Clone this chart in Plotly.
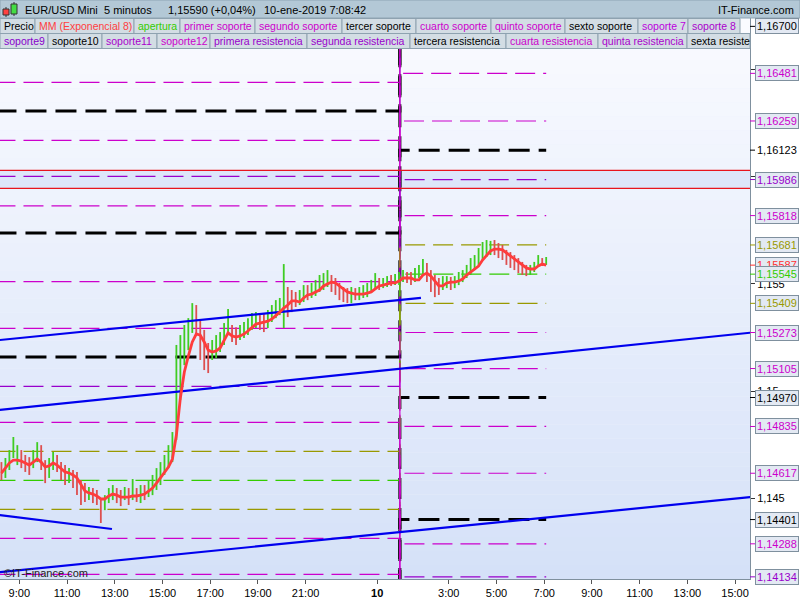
import pandas as pd
import plotly.graph_objects as go

# ---------------- data ----------------
bar_start = "2019-01-09 08:15"
bar_freq = "10min"
bar_high = [1.14669, 1.14688, 1.14725, 1.14786, 1.14748, 1.14725, 1.14702, 1.14692, 1.14725, 1.14762,
            1.14748, 1.14678, 1.14688, 1.14716, 1.14702, 1.14669, 1.14655, 1.14641, 1.14632, 1.14623,
            1.14585, 1.14571, 1.14553, 1.14548, 1.14539, 1.14492, 1.14515, 1.14548, 1.14562, 1.14548,
            1.14539, 1.14553, 1.14548, 1.14590, 1.14548, 1.14562, 1.14562, 1.14585, 1.14609, 1.14641,
            1.14669, 1.14702, 1.14748, 1.14809, 1.15215, 1.15261, 1.15308, 1.15340, 1.15410, 1.15401,
            1.15331, 1.15285, 1.15224, 1.15238, 1.15261, 1.15275, 1.15317, 1.15382, 1.15308, 1.15298,
            1.15308, 1.15322, 1.15340, 1.15364, 1.15368, 1.15354, 1.15364, 1.15378, 1.15401, 1.15424,
            1.15434, 1.15592, 1.15485, 1.15471, 1.15462, 1.15471, 1.15494, 1.15494, 1.15504, 1.15518,
            1.15541, 1.15550, 1.15564, 1.15541, 1.15527, 1.15504, 1.15485, 1.15480, 1.15485, 1.15480,
            1.15485, 1.15494, 1.15504, 1.15518, 1.15550, 1.15527, 1.15527, 1.15536, 1.15541, 1.15546,
            1.15555, 1.15564, 1.15555, 1.15555, 1.15574, 1.15588, 1.15616, 1.15597, 1.15564, 1.15541,
            1.15527, 1.15536, 1.15536, 1.15532, 1.15536, 1.15555, 1.15564, 1.15588, 1.15620, 1.15634,
            1.15667, 1.15695, 1.15704, 1.15700, 1.15704, 1.15690, 1.15681, 1.15658, 1.15648, 1.15634,
            1.15620, 1.15602, 1.15588, 1.15588, 1.15602, 1.15634, 1.15620, 1.15625]
bar_low = [1.14585, 1.14595, 1.14632, 1.14688, 1.14655, 1.14641, 1.14623, 1.14609, 1.14641, 1.14669,
           1.14632, 1.14571, 1.14595, 1.14632, 1.14623, 1.14585, 1.14562, 1.14571, 1.14548, 1.14515,
           1.14469, 1.14483, 1.14492, 1.14478, 1.14469, 1.14385, 1.14445, 1.14478, 1.14492, 1.14478,
           1.14464, 1.14492, 1.14469, 1.14492, 1.14483, 1.14478, 1.14492, 1.14506, 1.14515, 1.14539,
           1.14562, 1.14609, 1.14641, 1.14669, 1.14772, 1.14958, 1.15121, 1.15191, 1.15271, 1.15261,
           1.15145, 1.15098, 1.15084, 1.15145, 1.15154, 1.15182, 1.15215, 1.15275, 1.15229, 1.15215,
           1.15238, 1.15247, 1.15261, 1.15285, 1.15294, 1.15285, 1.15275, 1.15294, 1.15322, 1.15340,
           1.15354, 1.15294, 1.15345, 1.15368, 1.15392, 1.15401, 1.15415, 1.15424, 1.15434, 1.15443,
           1.15462, 1.15471, 1.15485, 1.15462, 1.15448, 1.15424, 1.15415, 1.15410, 1.15410, 1.15424,
           1.15424, 1.15434, 1.15438, 1.15457, 1.15471, 1.15471, 1.15480, 1.15485, 1.15490, 1.15494,
           1.15494, 1.15508, 1.15504, 1.15494, 1.15508, 1.15527, 1.15541, 1.15508, 1.15462, 1.15438,
           1.15448, 1.15471, 1.15480, 1.15471, 1.15480, 1.15494, 1.15508, 1.15527, 1.15541, 1.15564,
           1.15588, 1.15611, 1.15625, 1.15634, 1.15634, 1.15620, 1.15611, 1.15588, 1.15574, 1.15564,
           1.15550, 1.15541, 1.15536, 1.15541, 1.15555, 1.15583, 1.15583, 1.15588]
bar_up = [0, 1, 1, 1, 1, 0, 0, 0, 1, 1,
          0, 0, 1, 1, 0, 0, 0, 1, 0, 0,
          0, 0, 1, 0, 0, 0, 1, 1, 1, 0,
          0, 1, 0, 1, 0, 1, 0, 1, 1, 1,
          1, 1, 1, 1, 1, 1, 1, 1, 1, 0,
          0, 0, 0, 1, 1, 1, 1, 1, 0, 0,
          1, 1, 1, 1, 1, 0, 0, 1, 1, 1,
          1, 1, 0, 0, 0, 1, 1, 0, 1, 1,
          1, 1, 1, 0, 0, 0, 0, 0, 1, 0,
          1, 1, 1, 1, 1, 0, 1, 1, 0, 1,
          1, 1, 0, 0, 1, 1, 1, 0, 0, 0,
          0, 1, 1, 0, 1, 1, 1, 1, 1, 1,
          1, 1, 1, 1, 0, 0, 0, 0, 0, 0,
          0, 0, 0, 1, 1, 1, 0, 1]
ema8 = [1.14618, 1.14641, 1.14665, 1.14678, 1.14678, 1.14674, 1.14665, 1.14655, 1.14669, 1.14683,
        1.14669, 1.14646, 1.14651, 1.14665, 1.14655, 1.14637, 1.14623, 1.14618, 1.14609, 1.14595,
        1.14562, 1.14534, 1.14525, 1.14520, 1.14511, 1.14497, 1.14497, 1.14511, 1.14520, 1.14515,
        1.14506, 1.14506, 1.14506, 1.14511, 1.14511, 1.14515, 1.14520, 1.14534, 1.14548, 1.14571,
        1.14595, 1.14623, 1.14646, 1.14683, 1.14795, 1.14968, 1.15089, 1.15163, 1.15229, 1.15266,
        1.15261, 1.15229, 1.15191, 1.15182, 1.15187, 1.15201, 1.15238, 1.15271, 1.15257, 1.15252,
        1.15257, 1.15266, 1.15280, 1.15294, 1.15312, 1.15317, 1.15322, 1.15326, 1.15336, 1.15350,
        1.15368, 1.15387, 1.15401, 1.15420, 1.15420, 1.15415, 1.15434, 1.15448, 1.15452, 1.15462,
        1.15471, 1.15490, 1.15499, 1.15508, 1.15504, 1.15490, 1.15476, 1.15462, 1.15457, 1.15452,
        1.15452, 1.15452, 1.15457, 1.15462, 1.15476, 1.15490, 1.15494, 1.15499, 1.15504, 1.15504,
        1.15513, 1.15527, 1.15527, 1.15527, 1.15518, 1.15518, 1.15541, 1.15550, 1.15536, 1.15513,
        1.15490, 1.15490, 1.15504, 1.15508, 1.15508, 1.15513, 1.15522, 1.15541, 1.15555, 1.15569,
        1.15583, 1.15611, 1.15634, 1.15653, 1.15662, 1.15662, 1.15658, 1.15644, 1.15634, 1.15616,
        1.15602, 1.15588, 1.15574, 1.15569, 1.15569, 1.15583, 1.15592, 1.15587]

# daily pivot levels: value on 9 Jan (left) and on 10 Jan (right)
level_prev = [1.16439, 1.16306, 1.16169, 1.16001, 1.15863, 1.15737, 1.15510, 1.15292, 1.15159, 1.15022, 1.14854,
              1.14719, 1.14584, 1.14449, 1.14313, 1.14146, 1.14005, 1.13870, 1.13652, 1.13436, 1.13323, 1.13169]
level_next = [1.17404, 1.17271, 1.17134, 1.16966, 1.16825, 1.16700, 1.16481, 1.16259, 1.16123, 1.15986, 1.15818,
              1.15681, 1.15545, 1.15409, 1.15273, 1.15105, 1.14970, 1.14835, 1.14617, 1.14401, 1.14288, 1.14134]
level_color = ["#cc00cc", "#000000", "#cc00cc", "#9900cc", "#cc00cc", "#000000", "#cc00cc", "#cc00cc", "#000000",
               "#9900cc", "#cc00cc", "#999900", "#33cc00", "#999900", "#cc00cc", "#cc00cc", "#000000", "#cc00cc",
               "#cc00cc", "#000000", "#cc00cc", "#9900cc"]
level_from = "2019-01-09 08:00"
day_change = "2019-01-10 00:57"
level_to = "2019-01-10 07:05"
level_label_boxed = [True, True, True, True, True, True, True, True, False, True, True,
                     True, True, True, True, True, True, True, True, True, True, True]

zone_prices = [1.16029, 1.15945]

trend_t0 = ["2019-01-09 08:11", "2019-01-09 08:11", "2019-01-09 08:11", "2019-01-09 08:11"]
trend_p0 = [1.15238, 1.14912, 1.14422, 1.14156]
trend_t1 = ["2019-01-10 01:50", "2019-01-10 15:38", "2019-01-09 12:53", "2019-01-10 15:38"]
trend_p1 = [1.15434, 1.15272, 1.14357, 1.14506]

x_range = ["2019-01-09 08:11:24", "2019-01-10 15:37:34"]
x_tick_vals = ["2019-01-09 09:00", "2019-01-09 11:00", "2019-01-09 13:00", "2019-01-09 15:00",
               "2019-01-09 17:00", "2019-01-09 19:00", "2019-01-09 21:00", "2019-01-10 00:00",
               "2019-01-10 03:00", "2019-01-10 05:00", "2019-01-10 07:00", "2019-01-10 09:00",
               "2019-01-10 11:00", "2019-01-10 13:00", "2019-01-10 15:00"]
x_tick_text = ["9:00", "11:00", "13:00", "15:00", "17:00", "19:00", "21:00", "<b>10</b>",
               "3:00", "5:00", "7:00", "9:00", "11:00", "13:00", "15:00"]
y_range = [1.14124, 1.16739]
y_tick_vals = [1.145, 1.150, 1.155, 1.160, 1.165]
y_tick_text = ["1,145", "1,15", "1,155", "1,16", "1,165"]

legend_row1 = ["Precio", "MM (Exponencial 8)", "apertura", "primer soporte", "segundo soporte", "tercer soporte",
               "cuarto soporte", "quinto soporte", "sexto soporte", "soporte 7", "soporte 8"]
legend_row1_colors = ["#000000", "#ff4040", "#33cc00", "#cc00cc", "#cc00cc", "#000000", "#cc00cc", "#cc00cc",
                      "#000000", "#bb00dd", "#aa00cc"]
legend_row2 = ["soporte9", "soporte10", "soporte11", "soporte12", "primera resistencia", "segunda resistencia",
               "tercera resistencia", "cuarta resistencia", "quinta resistencia", "sexta resiste"]
legend_row2_colors = ["#8800cc", "#000000", "#aa00cc", "#cc00cc", "#9900cc", "#9900cc", "#000000", "#cc00cc",
                      "#aa00cc", "#000000"]

header_parts = ["EUR/USD Mini", "5 minutos", "1,15590 (+0,04%)", "10-ene-2019 7:08:42"]
site_name = "IT-Finance.com"
watermark = "©IT-Finance.com"

# ---------------- layout helpers (pixels -> paper) ----------------
PW, PT, PB = 750.0, 18.0, 579.0
PH = PB - PT
def px(x):
    return x / PW
def py(y):
    return (PB - y) / PH

FONT = "Liberation Sans"
GREEN = "#3fcc22"
RED = "#dd4f4f"

fig = go.Figure()

# pivot level step lines (black ones first so coloured ones sit on top)
order = sorted(range(len(level_color)), key=lambda i: 0 if level_color[i] == "#000000" else 1)
for i in order:
    lp, ln, col = level_prev[i], level_next[i], level_color[i]
    black = col == "#000000"
    fig.add_trace(go.Scatter(
        x=[level_from, day_change, day_change, level_to], y=[lp, lp, ln, ln], mode="lines",
        line=dict(color=col, width=3 if black else 1.2, dash="21px,9px" if black else "20px,8px"),
        hoverinfo="skip", showlegend=False))

# red zone lines
for zp in zone_prices:
    fig.add_trace(go.Scatter(x=x_range, y=[zp, zp], mode="lines", line=dict(color="#e8141e", width=1.2),
                             hoverinfo="skip", showlegend=False))

# price bars
times = pd.date_range(bar_start, periods=len(bar_high), freq=bar_freq)
for up_flag, col in [(1, GREEN), (0, RED)]:
    xs, ys = [], []
    for t, h, l, u in zip(times, bar_high, bar_low, bar_up):
        if u == up_flag:
            xs += [t, t, None]
            ys += [l, h, None]
    fig.add_trace(go.Scatter(x=xs, y=ys, mode="lines", line=dict(color=col, width=1.8),
                             hoverinfo="skip", showlegend=False))

# trend lines
for t0, p0, t1, p1 in zip(trend_t0, trend_p0, trend_t1, trend_p1):
    fig.add_trace(go.Scatter(x=[t0, t1], y=[p0, p1], mode="lines", line=dict(color="#0000ee", width=2.2),
                             hoverinfo="skip", showlegend=False))

# EMA 8
fig.add_trace(go.Scatter(x=times, y=ema8, mode="lines", line=dict(color="#ff3c3c", width=2.8),
                         hoverinfo="skip", showlegend=False))

shapes = []
# background gradient
N = 40
top_c, bot_c = (250, 251, 255), (213, 225, 248)
for k in range(N):
    f = (k + 0.5) / N
    c = tuple(int(round(top_c[i] + (bot_c[i] - top_c[i]) * f)) for i in range(3))
    shapes.append(dict(type="rect", xref="paper", yref="paper", x0=0, x1=1,
                       y0=1 - (k + 1) / N, y1=1 - k / N, fillcolor="rgb(%d,%d,%d)" % c,
                       line=dict(width=0), layer="below"))
# zone band
shapes.append(dict(type="rect", xref="paper", yref="y", x0=0, x1=1, y0=zone_prices[1], y1=zone_prices[0],
                   fillcolor="#dde6fa", line=dict(width=0), layer="below"))
# header bar
shapes.append(dict(type="rect", xref="paper", yref="paper", x0=px(0), x1=px(800), y0=py(18), y1=py(0),
                   fillcolor="#b3c8d6", line=dict(color="#8ea4b3", width=1), layer="above"))
# icon
shapes.append(dict(type="line", xref="paper", yref="paper", x0=px(6), x1=px(6), y0=py(17), y1=py(7),
                   line=dict(color="#333", width=1), layer="above"))
shapes.append(dict(type="rect", xref="paper", yref="paper", x0=px(3), x1=px(9), y0=py(15), y1=py(9),
                   fillcolor="#ff4040", line=dict(color="#333", width=1), layer="above"))
shapes.append(dict(type="line", xref="paper", yref="paper", x0=px(14), x1=px(14), y0=py(16), y1=py(2),
                   line=dict(color="#333", width=1), layer="above"))
shapes.append(dict(type="rect", xref="paper", yref="paper", x0=px(11), x1=px(17), y0=py(14), y1=py(4),
                   fillcolor="#44dd44", line=dict(color="#333", width=1), layer="above"))

annotations = []
hx = [23, 102, 166, 262]
for txt, x in zip(header_parts, hx):
    annotations.append(dict(text=txt, x=px(x), y=py(10), xref="paper", yref="paper", xanchor="left",
                            yanchor="middle", showarrow=False, font=dict(family=FONT, size=11, color="black")))
annotations.append(dict(text=site_name, x=px(796), y=py(10), xref="paper", yref="paper", xanchor="right",
                        yanchor="middle", showarrow=False, font=dict(family=FONT, size=11, color="black")))

# legend rows
row1_edges = [0, 35, 134, 180, 255, 342, 416, 491, 565, 638, 688, 740]
row2_edges = [0, 48, 102, 157, 210, 307, 410, 506, 598, 687, 750]
for names, cols, edges, y0, y1 in [(legend_row1, legend_row1_colors, row1_edges, 18.5, 33.5),
                                   (legend_row2, legend_row2_colors, row2_edges, 33.5, 48.5)]:
    for i, (nm, col) in enumerate(zip(names, cols)):
        shapes.append(dict(type="rect", xref="paper", yref="paper", x0=px(edges[i]), x1=px(edges[i + 1]),
                           y0=py(y1), y1=py(y0), fillcolor="#d3dde4", line=dict(color="#8ea2b0", width=1),
                           layer="above"))
        annotations.append(dict(text=nm, x=px(edges[i] + 2), y=py((y0 + y1) / 2), xref="paper", yref="paper",
                                xanchor="left", yanchor="middle", showarrow=False,
                                font=dict(family=FONT, size=10.5, color=col)))

# right price labels
def fmt(v):
    return ("%.5f" % v).replace(".", ",")

labels = []
for v, col, boxed in zip(level_next, level_color, level_label_boxed):
    if y_range[0] <= v <= y_range[1]:
        labels.append((v, col, boxed))
labels.insert(7, (ema8[-1], "#ff3030", True))
for v, col, boxed in labels:
    shapes.append(dict(type="line", xref="paper", yref="y", xsizemode="pixel", xanchor=1, x0=0, x1=5,
                       y0=v, y1=v, line=dict(color=col, width=1)))
    annotations.append(dict(text=fmt(v), x=1, xref="paper", y=v, yref="y", xanchor="left", yanchor="middle",
                            xshift=5, showarrow=False, font=dict(family=FONT, size=11, color=col),
                            bgcolor="#e3e9f3" if boxed else "rgba(0,0,0,0)",
                            bordercolor="#7f909e" if boxed else "rgba(0,0,0,0)", borderwidth=1, borderpad=1))

annotations.append(dict(text=watermark, x=px(2), y=py(573), xref="paper", yref="paper", xanchor="left",
                        yanchor="middle", showarrow=False, font=dict(family=FONT, size=11, color="#222")))

fig.update_layout(
    width=800, height=600, margin=dict(l=0, r=50, t=18, b=21),
    paper_bgcolor="white", plot_bgcolor="#eef2fc", showlegend=False,
    font=dict(family=FONT, size=11, color="black"),
    shapes=shapes, annotations=annotations,
    xaxis=dict(type="date", range=x_range, tickvals=x_tick_vals, ticktext=x_tick_text, ticks="outside",
               ticklen=4, tickcolor="#555", showgrid=False, zeroline=False, showline=True,
               linecolor="#7f909e", mirror=True, tickfont=dict(family=FONT, size=11, color="black")),
    yaxis=dict(side="right", range=y_range, tickvals=y_tick_vals, ticktext=y_tick_text, ticks="outside",
               ticklen=4, tickcolor="#333", showgrid=False, zeroline=False, showline=True,
               linecolor="#7f909e", mirror=True, tickfont=dict(family=FONT, size=11, color="black")),
)

fig.write_html("out.html", config={"displayModeBar": False},
               post_script="document.body.style.margin='0px';document.body.style.overflow='hidden';")
